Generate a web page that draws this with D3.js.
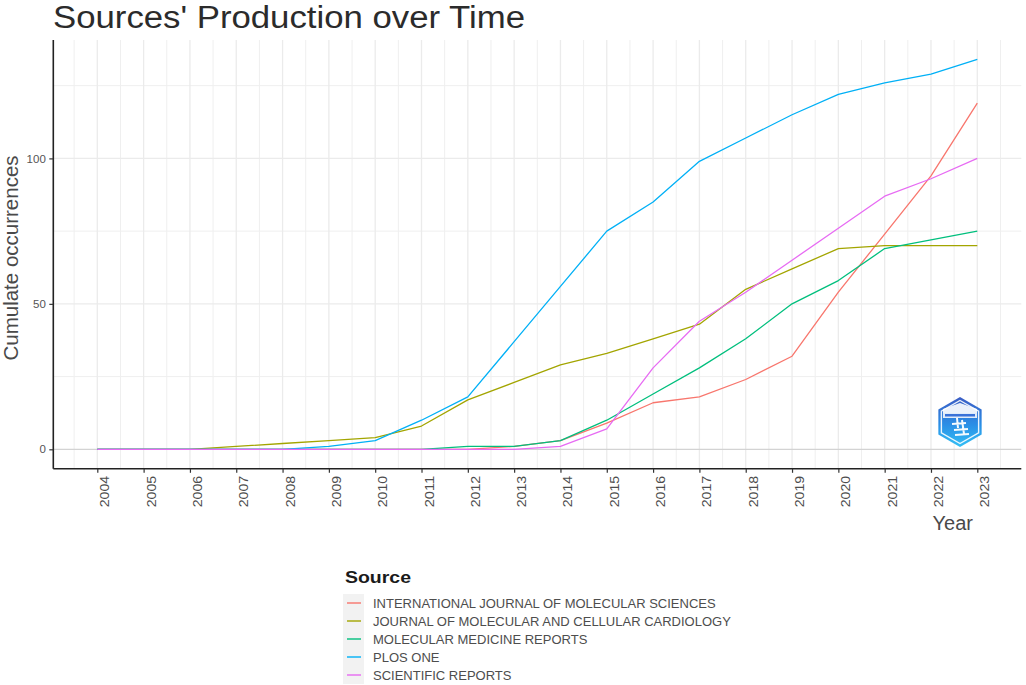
<!DOCTYPE html>
<html>
<head>
<meta charset="utf-8">
<script src="https://cdn.jsdelivr.net/npm/d3@7/dist/d3.min.js"></script>
<style>
  html, body { margin: 0; padding: 0; background: #fff; }
  svg { display: block; font-family: "Liberation Sans", Arial, sans-serif; }
</style>
</head>
<body>
<svg id="chart" width="1026" height="685"></svg>
<script>
// ---- data ----
const years = [2004, 2005, 2006, 2007, 2008, 2009, 2010, 2011, 2012, 2013, 2014, 2015, 2016, 2017, 2018, 2019, 2020, 2021, 2022, 2023];
const yearLabels = ["2004","2005","2006","2007","2008","2009","2010","2011","2012","2013","2014","2015","2016","2017","2018","2019","2020","2021","2022","2023"];
const sources = ["INTERNATIONAL JOURNAL OF MOLECULAR SCIENCES", "JOURNAL OF MOLECULAR AND CELLULAR CARDIOLOGY", "MOLECULAR MEDICINE REPORTS", "PLOS ONE", "SCIENTIFIC REPORTS"];
const ijms = [0, 0, 0, 0, 0, 0, 0, 0, 0, 1, 3, 9, 16, 18, 24, 32, 54, 74, 94, 119];
const jmcc = [0, 0, 0, 1, 2, 3, 4, 8, 17, 23, 29, 33, 38, 43, 55, 62, 69, 70, 70, 70];
const mmr  = [0, 0, 0, 0, 0, 0, 0, 0, 1, 1, 3, 10, 19, 28, 38, 50, 58, 69, 72, 75];
const plos = [0, 0, 0, 0, 0, 1, 3, 10, 18, 37, 56, 75, 85, 99, 107, 115, 122, 126, 129, 134];
const srep = [0, 0, 0, 0, 0, 0, 0, 0, 0, 0, 1, 7, 28, 44, 54, 65, 76, 87, 93, 100];
const seriesValues = [ijms, jmcc, mmr, plos, srep];
const colors = ["#F8766D", "#A3A500", "#00BF7D", "#00B0F6", "#E76BF3"];
const yMajor = [0, 50, 100];
const yMinor = [25, 75, 125];
const yLabels = ["0", "50", "100"];

// ---- layout ----
const svg = d3.select("#chart");
const panel = { left: 53.3, right: 1021.3, top: 40, bottom: 468.8 };

const x = d3.scaleLinear().domain([2003.05, 2023.95]).range([panel.left, panel.right]);
const y = d3.scaleLinear().domain([-6.7, 140.7]).range([panel.bottom, panel.top]);

const g = svg.append("g");

// gridlines
const xMinor = years.map(v => v - 0.5).concat([years[years.length - 1] + 0.5]);
g.selectAll(".xminor").data(xMinor).join("line")
  .attr("x1", d => x(d)).attr("x2", d => x(d))
  .attr("y1", panel.top).attr("y2", panel.bottom)
  .attr("stroke", "#efefef").attr("stroke-width", 1);
g.selectAll(".yminor").data(yMinor).join("line")
  .attr("x1", panel.left).attr("x2", panel.right)
  .attr("y1", d => y(d)).attr("y2", d => y(d))
  .attr("stroke", "#efefef").attr("stroke-width", 1);
g.selectAll(".xmajor").data(years).join("line")
  .attr("x1", d => x(d)).attr("x2", d => x(d))
  .attr("y1", panel.top).attr("y2", panel.bottom)
  .attr("stroke", "#ebebeb").attr("stroke-width", 1.3);
g.selectAll(".ymajor").data(yMajor).join("line")
  .attr("x1", panel.left).attr("x2", panel.right)
  .attr("y1", d => y(d)).attr("y2", d => y(d))
  .attr("stroke", "#ebebeb").attr("stroke-width", 1.3);
// zero reference line
g.append("line")
  .attr("x1", panel.left).attr("x2", panel.right)
  .attr("y1", y(0)).attr("y2", y(0))
  .attr("stroke", "#000").attr("stroke-opacity", 0.1).attr("stroke-width", 1.3);

// lines
const line = d3.line().x((d, i) => x(years[i])).y(d => y(d));
seriesValues.forEach((vals, k) => {
  g.append("path").datum(vals)
    .attr("d", line)
    .attr("fill", "none")
    .attr("stroke", colors[k])
    .attr("stroke-width", 1.3)
    .attr("stroke-linejoin", "round");
});

// axes
const xAxis = d3.axisBottom(x).tickValues(years).tickFormat((d, i) => yearLabels[i]).tickSize(4).tickSizeOuter(0);
const xg = svg.append("g").attr("transform", `translate(0,${panel.bottom})`).call(xAxis);
xg.select(".domain").attr("stroke", "#222").attr("stroke-width", 1.6).attr("d", `M${panel.left},0H${panel.right}`);
xg.selectAll(".tick line").attr("stroke", "#333").attr("stroke-width", 1.2);
xg.selectAll(".tick text")
  .attr("transform", "translate(11.5,7) rotate(-90)")
  .attr("x", 0).attr("y", 0).attr("dy", 0)
  .attr("text-anchor", "end")
  .style("font-family", "'Liberation Sans', Arial, sans-serif")
  .style("font-size", "13px")
  .attr("textLength", 31.5).attr("lengthAdjust", "spacingAndGlyphs")
  .attr("fill", "#4d4d4d");

const yAxis = d3.axisLeft(y).tickValues(yMajor).tickFormat((d, i) => yLabels[i]).tickSize(4).tickSizeOuter(0);
const yg = svg.append("g").attr("transform", `translate(${panel.left},0)`).call(yAxis);
yg.select(".domain").attr("stroke", "#222").attr("stroke-width", 1.6).attr("d", `M0,${panel.top}V${panel.bottom}`);
yg.selectAll(".tick line").attr("stroke", "#333").attr("stroke-width", 1.2);
yg.selectAll(".tick text")
  .attr("x", -7.5)
  .style("font-family", "'Liberation Sans', Arial, sans-serif")
  .style("font-size", "11.5px")
  .attr("fill", "#555");

// title
svg.append("text")
  .attr("x", 53).attr("y", 27.5)
  .attr("font-size", 31)
  .attr("textLength", 472).attr("lengthAdjust", "spacingAndGlyphs")
  .attr("fill", "#2b2b2b")
  .text("Sources' Production over Time");

// axis titles
svg.append("text")
  .attr("transform", "translate(18,258) rotate(-90)")
  .attr("text-anchor", "middle")
  .attr("font-size", 20.5)
  .attr("fill", "#4a4a4a")
  .text("Cumulate occurrences");
svg.append("text")
  .attr("x", 973).attr("y", 530)
  .attr("text-anchor", "end")
  .attr("font-size", 20)
  .attr("fill", "#4a4a4a")
  .text("Year");

// logo watermark
const logo = svg.append("g").attr("transform", "translate(960,422)");
const defs = svg.append("defs");
const grad = defs.append("linearGradient").attr("id", "lg").attr("x1", 0).attr("y1", 0).attr("x2", 0).attr("y2", 1);
grad.append("stop").attr("offset", "0%").attr("stop-color", "#3b5cc4");
grad.append("stop").attr("offset", "55%").attr("stop-color", "#2a8ee6");
grad.append("stop").attr("offset", "100%").attr("stop-color", "#33c0f5");
const hex = r => d3.range(6).map(i => {
  const a = Math.PI / 180 * (60 * i - 90);
  return [r * Math.cos(a), r * Math.sin(a)];
});
logo.append("polygon").attr("points", hex(25).map(p => p.join(",")).join(" ")).attr("fill", "url(#lg)");
logo.append("polygon").attr("points", hex(21.5).map(p => p.join(",")).join(" "))
  .attr("fill", "none").attr("stroke", "#ffffff").attr("stroke-width", 1.4).attr("stroke-opacity", 0.9);
logo.append("path").attr("d", "M-17,-13 L0,-19 L17,-13 L17,-9 L-17,-9 Z").attr("fill", "#ffffff").attr("fill-opacity", 0.9);
logo.append("rect").attr("x", -17).attr("y", -9).attr("width", 34).attr("height", 5).attr("fill", "#ffffff").attr("fill-opacity", 0.85);
logo.append("rect").attr("x", -15).attr("y", -8).attr("width", 30).attr("height", 2.5).attr("fill", "#3a72d8");
logo.append("path")
  .attr("d", "M-3,-4 L-2,6 M-8,2 L6,1 M-6,8 L8,7 M2,-2 L4,12 M-5,13 L9,12")
  .attr("stroke", "#ffffff").attr("stroke-width", 2).attr("fill", "none").attr("stroke-opacity", 0.95);

// legend
const lg = svg.append("g");
lg.append("text")
  .attr("x", 345).attr("y", 582.5)
  .attr("font-size", 17).attr("font-weight", "bold")
  .attr("textLength", 66).attr("lengthAdjust", "spacingAndGlyphs")
  .attr("fill", "#1a1a1a")
  .text("Source");
const rowY = d3.scaleBand().domain(sources).range([594, 684]);
const items = lg.selectAll(".item").data(sources).join("g")
  .attr("transform", d => `translate(0,${rowY(d)})`);
items.append("rect").attr("x", 343).attr("y", 0).attr("width", 21).attr("height", rowY.bandwidth()).attr("fill", "#f2f2f2");
items.append("line").attr("x1", 347).attr("x2", 361)
  .attr("y1", rowY.bandwidth() / 2).attr("y2", rowY.bandwidth() / 2)
  .attr("stroke", (d, i) => colors[i]).attr("stroke-width", 1.4);
items.append("text")
  .attr("x", 373).attr("y", rowY.bandwidth() / 2).attr("dy", "0.36em")
  .attr("font-size", 13)
  .attr("fill", "#4d4d4d")
  .text(d => d);
</script>
</body>
</html>
